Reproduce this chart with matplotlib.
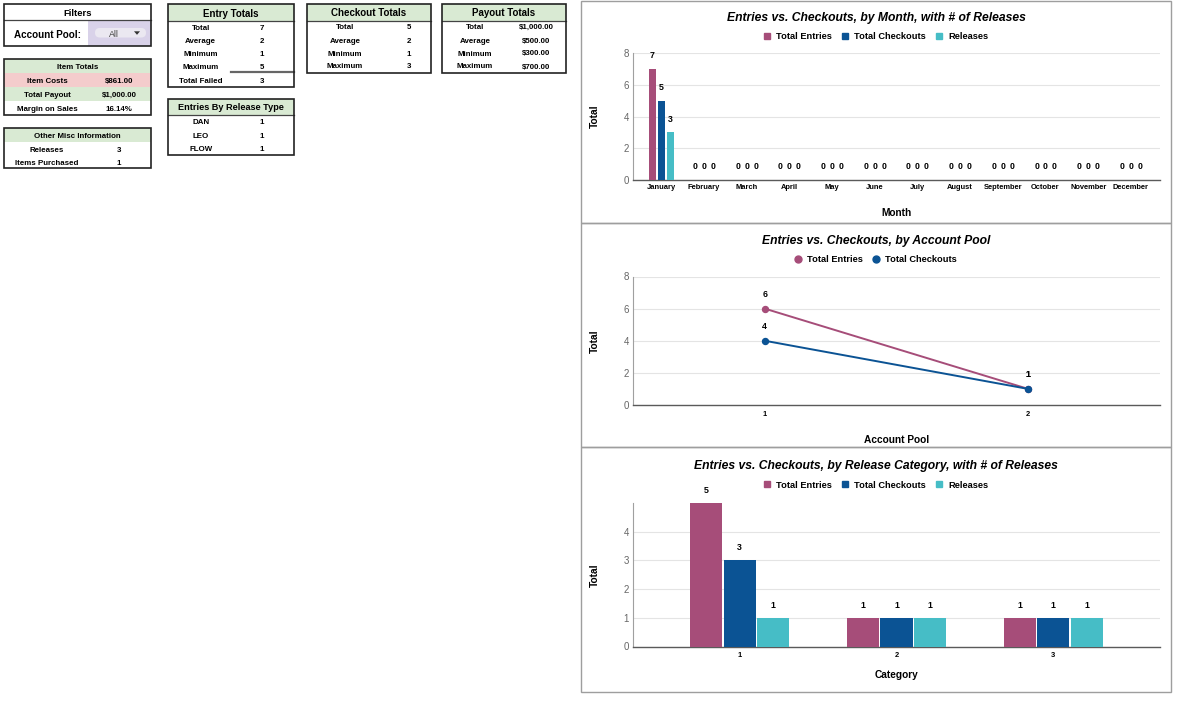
import numpy as np
import matplotlib
matplotlib.use("Agg")
import matplotlib.pyplot as plt
from matplotlib.patches import Rectangle, FancyBboxPatch, Polygon
from matplotlib.lines import Line2D

plt.rcParams['font.family'] = ['Liberation Sans', 'DejaVu Sans']

# ---------------- data ----------------
filter_label = "Account Pool:"
filter_value = "All"

item_labels = ["Item Costs", "Total Payout", "Margin on Sales"]
item_values = ["$861.00", "$1,000.00", "16.14%"]

misc_labels = ["Releases", "Items Purchased"]
misc_values = ["3", "1"]

entry_labels = ["Total", "Average", "Minimum", "Maximum", "Total Failed"]
entry_values = ["7", "2", "1", "5", "3"]

release_type_labels = ["DAN", "LEO", "FLOW"]
release_type_values = ["1", "1", "1"]

checkout_labels = ["Total", "Average", "Minimum", "Maximum"]
checkout_values = ["5", "2", "1", "3"]

payout_labels = ["Total", "Average", "Minimum", "Maximum"]
payout_values = ["$1,000.00", "$500.00", "$300.00", "$700.00"]

months = ["January", "February", "March", "April", "May", "June", "July",
          "August", "September", "October", "November", "December"]
month_entries = [7, 0, 0, 0, 0, 0, 0, 0, 0, 0, 0, 0]
month_checkouts = [5, 0, 0, 0, 0, 0, 0, 0, 0, 0, 0, 0]
month_releases = [3, 0, 0, 0, 0, 0, 0, 0, 0, 0, 0, 0]

pools = [1, 2]
pool_entries = [6, 1]
pool_checkouts = [4, 1]

categories = [1, 2, 3]
cat_entries = [5, 1, 1]
cat_checkouts = [3, 1, 1]
cat_releases = [1, 1, 1]

series_names = ["Total Entries", "Total Checkouts", "Releases"]
C_PINK, C_BLUE, C_CYAN = '#a64d79', '#0b5394', '#46bdc6'
GREEN, RED, LAV = '#d9ead3', '#f4cccc', '#d9d2e9'

W, H = 1200, 720
fig = plt.figure(figsize=(12, 7.2), dpi=100)
fig.patch.set_facecolor('white')

bg = fig.add_axes([0, 0, 1, 1], zorder=0)
bg.set_xlim(0, W)
bg.set_ylim(H, 0)
bg.axis('off')


def rect(x0, y0, x1, y1, fc='none', ec='none', lw=1.0, z=1):
    bg.add_patch(Rectangle((x0, y0), x1 - x0, y1 - y0, facecolor=fc,
                           edgecolor=ec, lw=lw, zorder=z))


def txt(x, y, s, fs=5.7, bold=True, color='black', ha='center'):
    bg.text(x, y, s, ha=ha, va='center_baseline', fontsize=fs,
            fontweight='bold' if bold else 'normal', color=color, zorder=5)


BORDER = '#222222'

# Filters
rect(4, 20, 88, 46, fc='white')
rect(88, 20, 151, 46, fc=LAV)
bg.add_patch(FancyBboxPatch((95, 28), 51, 9.5,
                            boxstyle='round,pad=0,rounding_size=4.7',
                            fc='#ebe8f1', ec='none', zorder=2))
bg.add_patch(Polygon([[134, 31.3], [140, 31.3], [137, 34.8]], closed=True,
                     fc='#333333', ec='none', zorder=3))
txt(114, 33.5, filter_value, fs=6.3, bold=False, color='#444444')
txt(48, 34, filter_label, fs=7.1)
txt(78, 13, "Filters", fs=6.8)
bg.plot([4, 151], [20, 20], color='#444444', lw=0.9, zorder=4)
rect(4, 4, 151, 46, ec=BORDER, lw=1.2, z=6)

# Item Totals
rect(4, 59, 151, 73, fc=GREEN)
rect(4, 73, 151, 87, fc=RED)
rect(4, 87, 151, 101, fc=GREEN)
txt(77.5, 66.5, "Item Totals")
for i, (l, v) in enumerate(zip(item_labels, item_values)):
    txt(47, 80.5 + 14 * i, l)
    txt(119, 80.5 + 14 * i, v)
rect(4, 59, 151, 115, ec=BORDER, lw=1.2, z=6)

# Other misc
rect(4, 128, 151, 142, fc=GREEN)
txt(77.5, 135.5, "Other Misc Information")
for i, (l, v) in enumerate(zip(misc_labels, misc_values)):
    txt(47, 149 + 13.3 * i, l)
    txt(119, 149 + 13.3 * i, v)
rect(4, 128, 151, 168, ec=BORDER, lw=1.2, z=6)

# Entry Totals
rect(168, 4, 294, 21, fc=GREEN)
bg.plot([168, 294], [21, 21], color='#444444', lw=0.9, zorder=4)
txt(231, 13, "Entry Totals", fs=7)
entry_ys = [27, 40.5, 53, 66.5, 80.3]
for y, l, v in zip(entry_ys, entry_labels, entry_values):
    txt(200.7, y, l)
    txt(262, y, v)
bg.plot([231, 294], [72, 72], color='#666666', lw=1.6, zorder=4)
rect(168, 4, 294, 87, ec=BORDER, lw=1.2, z=6)

# Entries by release type
rect(168, 99, 294, 114.5, fc=GREEN)
bg.plot([168, 294], [114.5, 114.5], color='#444444', lw=0.9, zorder=4)
txt(231, 107, "Entries By Release Type", fs=6.6)
for i, (l, v) in enumerate(zip(release_type_labels, release_type_values)):
    txt(200.7, 122 + 13.3 * i, l)
    txt(262, 122 + 13.3 * i, v)
rect(168, 99, 294, 155, ec=BORDER, lw=1.2, z=6)

# Checkout Totals
rect(307, 4, 431, 20.5, fc=GREEN)
bg.plot([307, 431], [20.5, 20.5], color='#444444', lw=0.9, zorder=4)
txt(369, 12.5, "Checkout Totals", fs=7)
tot_ys = [26.5, 40.5, 53, 66]
for y, l, v in zip(tot_ys, checkout_labels, checkout_values):
    txt(345, y, l)
    txt(409, y, v)
rect(307, 4, 431, 72.5, ec=BORDER, lw=1.2, z=6)

# Payout Totals
rect(442, 4, 566, 20.5, fc=GREEN)
bg.plot([442, 566], [20.5, 20.5], color='#444444', lw=0.9, zorder=4)
txt(504, 12.5, "Payout Totals", fs=7)
for y, l, v in zip(tot_ys, payout_labels, payout_values):
    txt(475, y, l)
    txt(536, y, v)
rect(442, 4, 566, 72.5, ec=BORDER, lw=1.2, z=6)

# chart panels
for (y0, y1) in [(1, 223), (223, 447), (447, 692)]:
    rect(581, y0, 1171, y1, ec='#9e9e9e', lw=1.0, z=6)

CX = 876 / W


def fy(y):
    return 1 - y / H


def style_axes(ax, ylim, yticks, xpad):
    ax.set_ylim(*ylim)
    ax.set_yticks(yticks)
    ax.yaxis.grid(True, color='#e4e4e4', lw=0.8)
    ax.set_axisbelow(True)
    for s in ['top', 'right']:
        ax.spines[s].set_visible(False)
    ax.spines['left'].set_color('#a0a0a0')
    ax.spines['left'].set_linewidth(0.8)
    ax.spines['bottom'].set_color('#5a5a5a')
    ax.spines['bottom'].set_linewidth(1.0)
    ax.tick_params(axis='y', length=0, pad=3, labelsize=7, labelcolor='#666666')
    ax.tick_params(axis='x', length=0, pad=xpad, labelsize=5.4)
    for lab in ax.get_xticklabels():
        lab.set_fontweight('bold')
    ax.patch.set_alpha(0)


def titles(title, ty, ly, xlabel, xly, ylab_y, handles):
    fig.text(CX, fy(ty), title, ha='center', va='center', fontsize=8.7,
             fontweight='bold', style='italic')
    fig.legend(handles=handles, loc='center', bbox_to_anchor=(CX, fy(ly)),
               ncol=len(handles), frameon=False,
               prop={'size': 6.7, 'weight': 'bold'},
               handlelength=0.7, handletextpad=0.6, columnspacing=1.1,
               borderpad=0, borderaxespad=0)
    fig.text(896.5 / W, fy(xly), xlabel, ha='center', va='center',
             fontsize=7.3, fontweight='bold')
    fig.text(595 / W, fy(ylab_y), "Total", ha='center', va='center',
             fontsize=7.3, fontweight='bold', rotation=90)


sq = [Line2D([], [], marker='s', ls='', color=c, ms=5, label=n)
      for c, n in zip([C_PINK, C_BLUE, C_CYAN], series_names)]
dots = [Line2D([], [], marker='o', ls='', color=c, ms=5, label=n)
        for c, n in zip([C_PINK, C_BLUE], series_names[:2])]

# ---- Chart 1: by month ----
ax1 = fig.add_axes([633 / W, fy(180), 527 / W, (180 - 53.3) / H], zorder=2)
x = np.arange(len(months))
step1, w1 = 0.21, 0.17
for i, (vals, col) in enumerate(zip([month_entries, month_checkouts, month_releases],
                                    [C_PINK, C_BLUE, C_CYAN])):
    xs = x + (i - 1) * step1
    ax1.bar(xs, vals, w1, color=col, zorder=3)
    for xi, v in zip(xs, vals):
        ax1.annotate(f"{v}", (xi, v), xytext=(0, 9.5), textcoords='offset points',
                     ha='center', va='center', fontsize=6.3, fontweight='bold')
ax1.set_xlim(-0.66, 11.68)
ax1.set_xticks(x)
ax1.set_xticklabels(months)
style_axes(ax1, (0, 8), [0, 2, 4, 6, 8], 3.2)
titles("Entries vs. Checkouts, by Month, with # of Releases", 17.5, 36.7,
       "Month", 213.3, 116.5, sq)

# ---- Chart 2: by account pool ----
ax2 = fig.add_axes([633 / W, fy(405), 527 / W, (405 - 276.5) / H], zorder=2)
for vals, col in zip([pool_entries, pool_checkouts], [C_PINK, C_BLUE]):
    ax2.plot(pools, vals, color=col, lw=1.4, marker='o', ms=4.3, zorder=3)
    for xi, v in zip(pools, vals):
        ax2.annotate(f"{v}", (xi, v), xytext=(0, 10.3), textcoords='offset points',
                     ha='center', va='center', fontsize=6.3, fontweight='bold')
ax2.set_xlim(0.5, 2.5)
ax2.set_xticks(pools)
ax2.set_xticklabels([str(p) for p in pools])
style_axes(ax2, (0, 8), [0, 2, 4, 6, 8], 4.3)
titles("Entries vs. Checkouts, by Account Pool", 241, 259.5,
       "Account Pool", 440, 341, dots)

# ---- Chart 3: by release category ----
ax3 = fig.add_axes([633 / W, fy(646.5), 527 / W, (646.5 - 503) / H], zorder=2)
xc = np.array(categories, dtype=float)
step3, w3 = 0.215, 0.205
for i, (vals, col) in enumerate(zip([cat_entries, cat_checkouts, cat_releases],
                                    [C_PINK, C_BLUE, C_CYAN])):
    xs = xc + (i - 1) * step3
    ax3.bar(xs, vals, w3, color=col, zorder=3)
    for xi, v in zip(xs, vals):
        ax3.annotate(f"{v}", (xi, v), xytext=(0, 9.2), textcoords='offset points',
                     ha='center', va='center', fontsize=6.3, fontweight='bold')
ax3.set_xlim(0.32, 3.68)
ax3.set_xticks(categories)
ax3.set_xticklabels([str(c) for c in categories])
style_axes(ax3, (0, 5), [0, 1, 2, 3, 4], 4.3)
titles("Entries vs. Checkouts, by Release Category, with # of Releases", 466, 485,
       "Category", 675.5, 575, sq)

fig.savefig("out.png", dpi=100, facecolor='white')
